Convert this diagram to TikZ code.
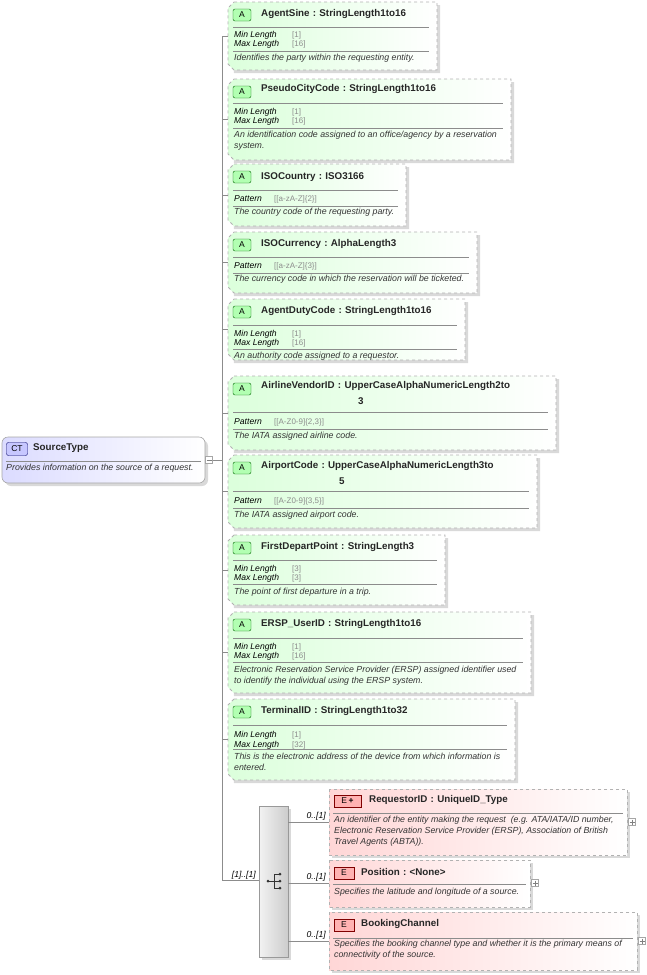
\documentclass[tikz,border=0pt]{standalone}
\usepackage{fontspec}
\setmainfont{Liberation Sans}
\begin{document}
\begin{tikzpicture}[x=1pt,y=-1pt,
  frame/.style={draw=black!30,dashed,line width=0.8pt},
  shadowc/.style={fill=black!15,draw=none},
  sepl/.style={draw=black!45,line width=0.6pt},
  ttl/.style={anchor=west,inner sep=0pt,font=\fontsize{9.8}{11}\selectfont\bfseries,text=black!85},
  fac/.style={anchor=west,inner sep=0pt,font=\fontsize{8.6}{9}\selectfont\itshape},
  val/.style={anchor=west,inner sep=0pt,font=\fontsize{8}{9}\selectfont,text=black!45},
  dsc/.style={anchor=north west,inner sep=0pt,align=left,font=\fontsize{8.8}{11}\selectfont\itshape,text=black!80},
  conn/.style={draw=black!45,line width=0.6pt},
  card/.style={anchor=east,inner sep=1pt,font=\fontsize{8.6}{9}\selectfont\itshape},
  abadge/.style={draw=green!40!black,fill=green!30,rounded corners=2pt,minimum width=18pt,minimum height=12pt,inner sep=0pt,font=\fontsize{8.5}{9}\selectfont},
  ebadge/.style={draw=red!50!black,fill=red!30,minimum height=12pt,inner sep=0pt,font=\fontsize{8.5}{9}\selectfont},
  pbox/.style={draw=black!35,fill=white,minimum size=7pt,inner sep=0pt,line width=0.5pt}
]
\useasboundingbox (0,0) rectangle (647,975);
\newcommand\attrbox[6]{%
  \fill[shadowc] (231,#2+3) -- (#4+3,#2+3) -- (#4+3,#3+3) -- (234,#3+3) -- cycle;
  \path[frame,left color=green!14,right color=white] (234,#2) -- (#4,#2) -- (#4,#3) -- (234,#3) -- (228,#3-6) -- (228,#2+6) -- cycle;
  \draw[sepl] (233,#5) -- (#4-8,#5);
  \draw[sepl] (233,#6) -- (#4-8,#6);
  \coordinate (#1w) at (228,{(#2+#3)/2});
  \coordinate (#1j) at (222,{(#2+#3)/2});
  \draw[conn] (#1j) -- (#1w);
  \node[abadge] (#1b) at (242,#2+13) {A};}
% vertical spine
\coordinate (sTop) at (222,36);
\coordinate (sBot) at (222,880);
\draw[conn] (sTop) -- (sBot);

% CT box
\fill[black!15,rounded corners=6pt] (5,440) rectangle (208,486);
\path[draw=black!35,rounded corners=6pt,left color=blue!14,right color=white,line width=0.6pt] (2,437) rectangle (205,483);
\node[draw=blue!40!black,fill=blue!22,rounded corners=2pt,minimum width=21pt,minimum height=13pt,inner sep=0pt,font=\fontsize{8.5}{9}\selectfont] (ctb) at (17,449) {CT};
\node[ttl] (ctt) at (33,448) {SourceType};
\draw[sepl] (6,461) -- (201,461);
\node[dsc] (ctd) at (6,464) {Provides information on the source of a request.};
\node[pbox] (ctm) at (209,460) {};
\draw[black!50,line width=0.5pt] (206.5,460) -- (211.5,460);
\draw[conn] (ctm.east) -- (222,460);

% 1 AgentSine
\attrbox{a1}{2}{70}{437}{27}{51}
\node[ttl] at (261,14) {AgentSine\,\,:\,\,StringLength1to16};
\node[fac] at (234,35) {Min Length}; \node[val] at (292,35) {[1]};
\node[fac] at (234,44) {Max Length}; \node[val] at (292,44) {[16]};
\node[dsc] at (234,54) {Identifies the party within the requesting entity.};
% 2 PseudoCityCode
\attrbox{a2}{79}{160}{511}{103}{128}
\node[ttl] at (261,89) {PseudoCityCode\,\,:\,\,StringLength1to16};
\node[fac] at (234,112) {Min Length}; \node[val] at (292,112) {[1]};
\node[fac] at (234,121) {Max Length}; \node[val] at (292,121) {[16]};
\node[dsc] at (234,131) {An identification code assigned to an office/agency by a reservation\\system.};
% 3 ISOCountry
\attrbox{a3}{164}{226}{406}{190}{206}
\node[ttl] at (261,177) {ISOCountry\,\,:\,\,ISO3166};
\node[fac] at (234,199) {Pattern}; \node[val] at (274,199) {[[a-zA-Z]\{2\}]};
\node[dsc] at (234,208) {The country code of the requesting party.};
% 4 ISOCurrency
\attrbox{a4}{232}{293}{477}{257}{273}
\node[ttl] at (261,244) {ISOCurrency\,\,:\,\,AlphaLength3};
\node[fac] at (234,266) {Pattern}; \node[val] at (274,266) {[[a-zA-Z]\{3\}]};
\node[dsc] at (234,275) {The currency code in which the reservation will be ticketed.};
% 5 AgentDutyCode
\attrbox{a5}{299}{360}{465}{325}{349}
\node[ttl] at (261,311) {AgentDutyCode\,\,:\,\,StringLength1to16};
\node[fac] at (234,334) {Min Length}; \node[val] at (292,334) {[1]};
\node[fac] at (234,343) {Max Length}; \node[val] at (292,343) {[16]};
\node[dsc] at (234,352) {An authority code assigned to a requestor.};
% 6 AirlineVendorID
\attrbox{a6}{376}{450}{556}{412}{429}
\node[ttl] at (261,386) {AirlineVendorID\,\,:\,\,UpperCaseAlphaNumericLength2to};
\node[ttl] at (358,401) {3};
\node[fac] at (234,422) {Pattern}; \node[val] at (274,422) {[[A-Z0-9]\{2,3\}]};
\node[dsc] at (234,432) {The IATA assigned airline code.};
% 7 AirportCode
\attrbox{a7}{455}{528}{537}{491}{508}
\node[ttl] at (261,466) {AirportCode\,\,:\,\,UpperCaseAlphaNumericLength3to};
\node[ttl] at (339,481) {5};
\node[fac] at (234,501) {Pattern}; \node[val] at (274,501) {[[A-Z0-9]\{3,5\}]};
\node[dsc] at (234,511) {The IATA assigned airport code.};
% 8 FirstDepartPoint
\attrbox{a8}{535}{605}{445}{560}{584}
\node[ttl] at (261,547) {FirstDepartPoint\,\,:\,\,StringLength3};
\node[fac] at (234,569) {Min Length}; \node[val] at (292,569) {[3]};
\node[fac] at (234,578) {Max Length}; \node[val] at (292,578) {[3]};
\node[dsc] at (234,588) {The point of first departure in a trip.};
% 9 ERSP_UserID
\attrbox{a9}{612}{693}{531}{638}{662}
\node[ttl] at (261,624) {ERSP\_UserID\,\,:\,\,StringLength1to16};
\node[fac] at (234,647) {Min Length}; \node[val] at (292,647) {[1]};
\node[fac] at (234,656) {Max Length}; \node[val] at (292,656) {[16]};
\node[dsc] at (234,666) {Electronic Reservation Service Provider (ERSP) assigned identifier used\\to identify the individual using the ERSP system.};
% 10 TerminalID
\attrbox{a10}{699}{780}{515}{725}{749}
\node[ttl] at (261,711) {TerminalID\,\,:\,\,StringLength1to32};
\node[fac] at (234,735) {Min Length}; \node[val] at (292,735) {[1]};
\node[fac] at (234,745) {Max Length}; \node[val] at (292,745) {[32]};
\node[dsc] at (234,753) {This is the electronic address of the device from which information is\\entered.};

% sequence compositor
\fill[black!15] (262,809) rectangle (291,960);
\path[draw=black!40,left color=black!5,right color=black!20,line width=0.5pt] (259,806) rectangle (288,957);
\coordinate (seqw) at (259,880);
\draw[conn] (sBot) -- (seqw);
\node[card] at (257,875) {[1]..[1]};
\fill[black!80] (268,881) circle (1.5pt);
\draw[black!80,line width=0.6pt] (268,881) -- (274,881) (274,874) -- (274,888) (274,874) -- (280,874) (274,881) -- (280,881) (274,888) -- (280,888);
\fill[black!80] (280,874) circle (1.5pt) (280,881) circle (1.5pt) (280,888) circle (1.5pt);

% elements
\newcommand\ebox[5]{%
  \fill[shadowc] (332,#2+3) rectangle (#4+3,#3+3);
  \path[frame,left color=red!16,right color=white] (329,#2) rectangle (#4,#3);
  \draw[sepl] (333,#5) -- (#4-4,#5);
  \coordinate (#1w) at (329,{#5+9});}
% RequestorID
\ebox{e1}{789}{855}{627}{813}
\draw[conn] (288,822) -- (e1w);
\node[card] at (327,816) {0..[1]};
\node[ebadge,minimum width=27pt] (e1b) at (347.5,801) {E\,\textbf{+}};
\node[ttl] at (369,800) {RequestorID\,\,:\,\,UniqueID\_Type};
\node[dsc] at (334,816) {An identifier of the entity making the request\ \ (e.g. ATA/IATA/ID number,\\Electronic Reservation Service Provider (ERSP), Association of British\\Travel Agents (ABTA)).};
\node[pbox] (e1p) at (632,822) {};
\draw[black!50,line width=0.4pt] (629.5,822) -- (634.5,822) (632,819.5) -- (632,824.5);
% Position
\ebox{e2}{860}{907}{530}{884}
\draw[conn] (288,883) -- (329,883);
\node[card] at (327,877) {0..[1]};
\node[ebadge,minimum width=20pt] (e2b) at (344,873) {E};
\node[ttl] at (361,872) {Position\,\,:\,\,<None>};
\node[dsc] at (334,888) {Specifies the latitude and longitude of a source.};
\node[pbox] (e2p) at (535,883) {};
\draw[black!50,line width=0.4pt] (532.5,883) -- (537.5,883) (535,880.5) -- (535,885.5);
% BookingChannel
\ebox{e3}{912}{970}{637}{938}
\draw[conn] (288,941) -- (329,941);
\node[card] at (327,935) {0..[1]};
\node[ebadge,minimum width=20pt] (e3b) at (344,925) {E};
\node[ttl] at (361,924) {BookingChannel};
\node[dsc] at (334,940) {Specifies the booking channel type and whether it is the primary means of\\connectivity of the source.};
\node[pbox] (e3p) at (642,941) {};
\draw[black!50,line width=0.4pt] (639.5,941) -- (644.5,941) (642,938.5) -- (642,943.5);
\end{tikzpicture}
\end{document}
